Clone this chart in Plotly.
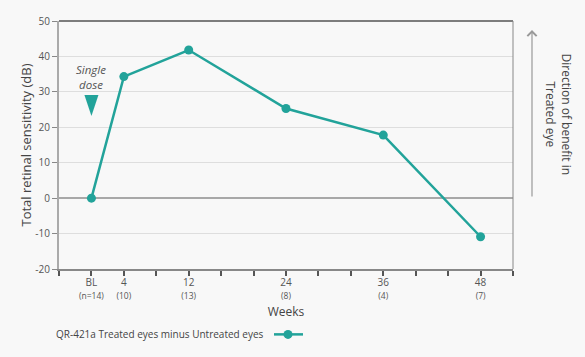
import plotly.graph_objects as go

tick_labels = ["BL<br><span style='font-size:8.5px'>(n=14)</span>",
               "4<br><span style='font-size:8.5px'>(10)</span>",
               "12<br><span style='font-size:8.5px'>(13)</span>",
               "24<br><span style='font-size:8.5px'>(8)</span>",
               "36<br><span style='font-size:8.5px'>(4)</span>",
               "48<br><span style='font-size:8.5px'>(7)</span>"]
x_pos = [1, 2, 4, 7, 10, 13]
values = [0, 34.3, 41.8, 25.3, 17.8, -10.9]
y_ticks = [-20, -10, 0, 10, 20, 30, 40, 50]
y_tick_text = ["-20", "-10", "0", "10", "20", "30", "40", "50"]
series_name = "QR-421a Treated eyes minus Untreated eyes"

TEAL = "#22a39a"
BG = "#f8f8f8"
FONT = "Open Sans"

fig = go.Figure()
fig.add_trace(go.Scatter(x=x_pos, y=values, mode="lines+markers",
                         line=dict(color=TEAL, width=2.5),
                         marker=dict(color=TEAL, size=9),
                         name=series_name, showlegend=False))

fig.update_layout(
    width=585, height=357,
    paper_bgcolor=BG, plot_bgcolor=BG,
    margin=dict(l=59, r=72, t=21, b=88),
    font=dict(family=FONT, color="#444"),
    xaxis=dict(range=[0, 14], tickmode="array", tickvals=x_pos, ticktext=tick_labels,
               automargin=False, ticklabelstandoff=3,
               showgrid=False, zeroline=False, showline=True, linecolor="#888", linewidth=1.5,
               ticks="", tickfont=dict(size=10, color="#555"),
               title=dict(text="Weeks", font=dict(size=12, color="#444"), standoff=8)),
    yaxis=dict(range=[-20, 50], tickmode="array", tickvals=y_ticks, ticktext=y_tick_text,
               automargin=False,
               showgrid=True, gridcolor="#dedede", gridwidth=1,
               zeroline=True, zerolinecolor="#a8a8a8", zerolinewidth=1.5,
               showline=True, linecolor="#aaa", linewidth=2, ticks="outside", ticklen=5,
               tickcolor="#888", tickfont=dict(size=10, color="#555"),
               title=dict(text="Total retinal sensitivity (dB)", font=dict(size=13, color="#444"), standoff=1)),
)

# minor tick marks every unit along x axis
fig.update_xaxes(minor=dict(tickmode="linear", tick0=0, dtick=1, ticks="outside", ticklen=5,
                            tickcolor="#555", tickwidth=1.5, showgrid=False))

# top border and right border
fig.add_shape(type="line", xref="paper", yref="paper", x0=0, x1=1, y0=1, y1=1,
              line=dict(color="#555", width=1.5))
fig.add_shape(type="line", xref="paper", yref="paper", x0=1, x1=1, y0=0, y1=1,
              line=dict(color="#888", width=1))

# single dose annotation
fig.add_annotation(x=1, y=34.2, xref="x", yref="y", text="<i>Single<br>dose</i>",
                   showarrow=False, font=dict(size=11.5, color="#555", family=FONT))
fig.add_shape(type="path", xref="x", yref="y", xsizemode="pixel", ysizemode="pixel",
              xanchor=1, yanchor=29.1,
              path="M -7 0 L 7 0 L 0 -21 Z", fillcolor=TEAL, line=dict(width=0))

# direction arrow on right
fig.add_annotation(xref="paper", yref="paper", x=(532-59)/454, y=(268.7-30)/247.7,
                   ax=0, ay=168, axref="pixel", ayref="pixel",
                   showarrow=True, arrowhead=4, arrowsize=1.5, arrowwidth=1.2, arrowcolor="#999",
                   text="")
fig.add_annotation(xref="paper", yref="paper", x=(577-59)/454, y=(268.7-114)/247.7,
                   text="Direction of benefit in<br>Treated eye", textangle=90,
                   showarrow=False, font=dict(size=12, color="#444"))

# legend (text then symbol)
fig.add_annotation(xref="paper", yref="paper", x=(54-59)/454, y=(268.7-334)/247.7,
                   xanchor="left", yanchor="middle", text=series_name,
                   showarrow=False, font=dict(size=10, color="#444"))
fig.add_shape(type="line", xref="paper", yref="paper", x0=(274-59)/454, x1=(303-59)/454,
              y0=(268.7-334)/247.7, y1=(268.7-334)/247.7, line=dict(color=TEAL, width=2.5))
fig.add_shape(type="circle", xref="paper", yref="paper", xsizemode="pixel", ysizemode="pixel",
              xanchor=(288-59)/454, yanchor=(268.7-334)/247.7,
              x0=-4.5, x1=4.5, y0=-4.5, y1=4.5, fillcolor=TEAL, line=dict(width=0))

fig.write_html("out.html", config={"displayModeBar": False},
               post_script="document.body.style.margin='0';document.body.style.background='%s';" % BG)
